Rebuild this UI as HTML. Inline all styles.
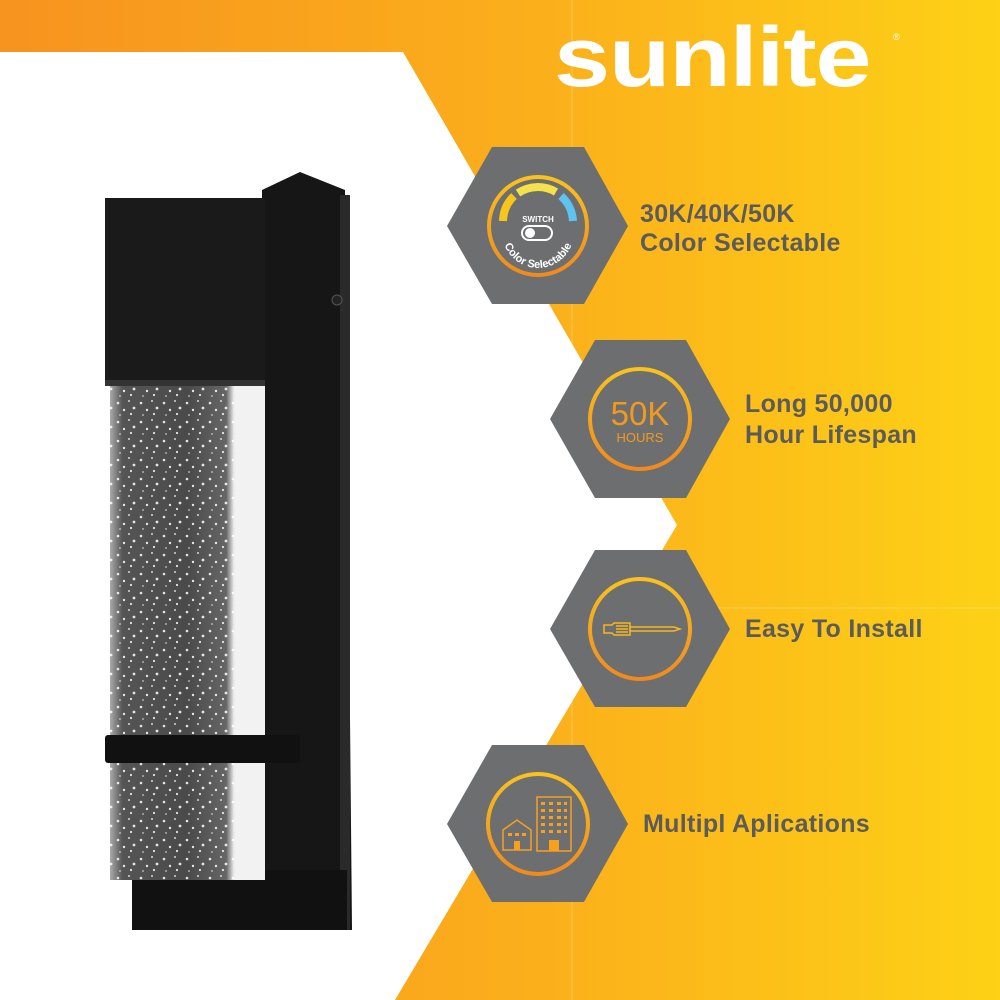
<!DOCTYPE html>
<html><head><meta charset="utf-8"><style>
html,body{margin:0;padding:0;}
body{width:1000px;height:1000px;overflow:hidden;position:relative;font-family:"Liberation Sans",sans-serif;}
</style></head><body>
<svg width="1000" height="1000" viewBox="0 0 1000 1000" xmlns="http://www.w3.org/2000/svg" style="position:absolute;left:0;top:0">
<defs>
<linearGradient id="bg" x1="0" y1="0" x2="1" y2="0">
<stop offset="0" stop-color="#F7931F"/><stop offset="0.55" stop-color="#FBB01B"/><stop offset="1" stop-color="#FDD116"/>
</linearGradient>
<linearGradient id="ring" x1="0" y1="0" x2="0" y2="1">
<stop offset="0" stop-color="#F9C21E"/><stop offset="1" stop-color="#F08A1E"/>
</linearGradient>
<pattern id="dots" width="23" height="19" patternUnits="userSpaceOnUse">
<circle cx="3" cy="4" r="1.3" fill="#fff"/><circle cx="14" cy="2" r="1" fill="#eee"/>
<circle cx="9" cy="11" r="1.2" fill="#fff"/><circle cx="19" cy="9" r="1.4" fill="#fff"/>
<circle cx="5" cy="16" r="0.9" fill="#ddd"/><circle cx="16" cy="15" r="1.1" fill="#fff"/>
</pattern>
<linearGradient id="glass" x1="0" y1="0" x2="1" y2="0">
<stop offset="0" stop-color="#aaa"/><stop offset="0.08" stop-color="#555"/><stop offset="0.5" stop-color="#4a4a4a"/><stop offset="0.75" stop-color="#666"/><stop offset="0.8" stop-color="#eee"/><stop offset="1" stop-color="#fafafa"/>
</linearGradient>
</defs>
<rect width="1000" height="1000" fill="url(#bg)"/>
<polygon points="0,52 403,52 677,525 395,1000 0,1000" fill="#fff"/>
<line x1="572" y1="0" x2="572" y2="1000" stroke="#fff" stroke-opacity="0.25" stroke-width="1"/>
<line x1="690" y1="608" x2="1000" y2="608" stroke="#fff" stroke-opacity="0.25" stroke-width="1"/>

<!-- lamp -->
<polygon points="262,190 300,172 345,190 352,930 262,930" fill="#161616"/>
<rect x="340" y="195" width="10" height="735" fill="#2a2a2a"/>
<rect x="132" y="870" width="215" height="60" fill="#111"/>
<rect x="110" y="300" width="155" height="580" fill="url(#glass)"/>
<rect x="110" y="300" width="125" height="580" fill="url(#dots)" opacity="0.85"/>
<rect x="235" y="300" width="30" height="580" fill="#f2f2f2"/>
<rect x="105" y="198" width="160" height="185" fill="#1a1a1a"/>
<rect x="105" y="380" width="160" height="6" fill="#333"/>
<rect x="105" y="735" width="195" height="28" rx="3" fill="#111"/>
<circle cx="337" cy="300" r="5" fill="#222" stroke="#555"/>

<!-- hexagons -->
<g fill="#6D6E70">
<polygon points="492,147 584,147 628,226 584,304 492,304 447,226"/>
<polygon points="595,340 686,340 730,419 686,498 595,498 550,419"/>
<polygon points="595,550 686,550 730,629 686,707 595,707 550,629"/>
<polygon points="492,745 584,745 628,824 584,902 492,902 447,824"/>
</g>
<g fill="none" stroke="url(#ring)" stroke-width="4">
<circle cx="538" cy="226" r="49"/>
<circle cx="640" cy="419" r="50"/>
<circle cx="640" cy="629" r="50"/>
<circle cx="538" cy="824" r="50"/>
</g>
<path d="M503,221 A36,36 0 0 1 514,196" stroke="#F8C51C" stroke-width="8" fill="none"/>
<path d="M518,193 A36,36 0 0 1 556,192" stroke="#F5E24A" stroke-width="8" fill="none"/>
<path d="M561,196 A36,36 0 0 1 573,221" stroke="#5EC3EF" stroke-width="8" fill="none"/>
<text x="538" y="222" font-size="8" font-weight="bold" fill="#fff" text-anchor="middle">SWITCH</text>
<rect x="522" y="226" width="30" height="14" rx="7" fill="none" stroke="#fff" stroke-width="2"/>
<circle cx="530" cy="233" r="5" fill="#fff"/>
<path id="arc1" d="M502,232 A36,36 0 0 0 574,232" fill="none"/>
<text font-size="11" font-weight="bold" fill="#fff"><textPath href="#arc1" startOffset="50%" text-anchor="middle">Color Selectable</textPath></text>
<text x="640" y="425" font-size="33" fill="#F39A1E" text-anchor="middle">50K</text>
<text x="640" y="442" font-size="13" fill="#F39A1E" text-anchor="middle">HOURS</text>
<g fill="none" stroke="#F8B51C" stroke-width="1.5">
<path d="M604,625 h8 l2,-2 h16 v12 h-16 l-2,-2 h-8 z"/>
<path d="M616,626 h12 M616,629 h12 M616,632 h12"/>
<path d="M630,627 h44 l6,2 l-6,2 h-44 z"/>
</g>
<g fill="none" stroke="#F8A01C" stroke-width="1.5">
<polygon points="503,830 517,820 531,830 531,850 503,850"/>
<rect x="537" y="797" width="34" height="54"/>
</g>
<g fill="#F8A01C">
<rect x="508" y="833" width="4" height="3"/><rect x="515" y="833" width="4" height="3"/><rect x="522" y="833" width="4" height="3"/>
<rect x="514" y="841" width="6" height="9"/>
<rect x="541" y="802" width="4" height="3"/><rect x="549" y="802" width="4" height="3"/><rect x="557" y="802" width="4" height="3"/><rect x="564" y="802" width="3" height="3"/>
<rect x="541" y="809" width="4" height="3"/><rect x="549" y="809" width="4" height="3"/><rect x="557" y="809" width="4" height="3"/><rect x="564" y="809" width="3" height="3"/>
<rect x="541" y="816" width="4" height="3"/><rect x="549" y="816" width="4" height="3"/><rect x="557" y="816" width="4" height="3"/><rect x="564" y="816" width="3" height="3"/>
<rect x="541" y="823" width="4" height="3"/><rect x="549" y="823" width="4" height="3"/><rect x="557" y="823" width="4" height="3"/><rect x="564" y="823" width="3" height="3"/>
<rect x="541" y="830" width="4" height="3"/><rect x="549" y="830" width="4" height="3"/><rect x="557" y="830" width="4" height="3"/><rect x="564" y="830" width="3" height="3"/>
<rect x="549" y="840" width="10" height="11"/>
</g>

<g font-size="25" font-weight="bold" fill="#5B5B5B" letter-spacing="0.3">
<text x="640" y="222">30K/40K/50K</text>
<text x="640" y="251">Color Selectable</text>
<text x="745" y="412">Long 50,000</text>
<text x="745" y="443">Hour Lifespan</text>
<text x="745" y="637">Easy To Install</text>
<text x="643" y="832">Multipl Aplications</text>
</g>
<text x="0" y="0" font-size="84" font-weight="bold" fill="#fff" transform="translate(554,86) scale(1.2,1)" letter-spacing="-1">sunlite</text>
<text x="893" y="40" font-size="9" fill="#fff">®</text>
</svg>
</body></html>
